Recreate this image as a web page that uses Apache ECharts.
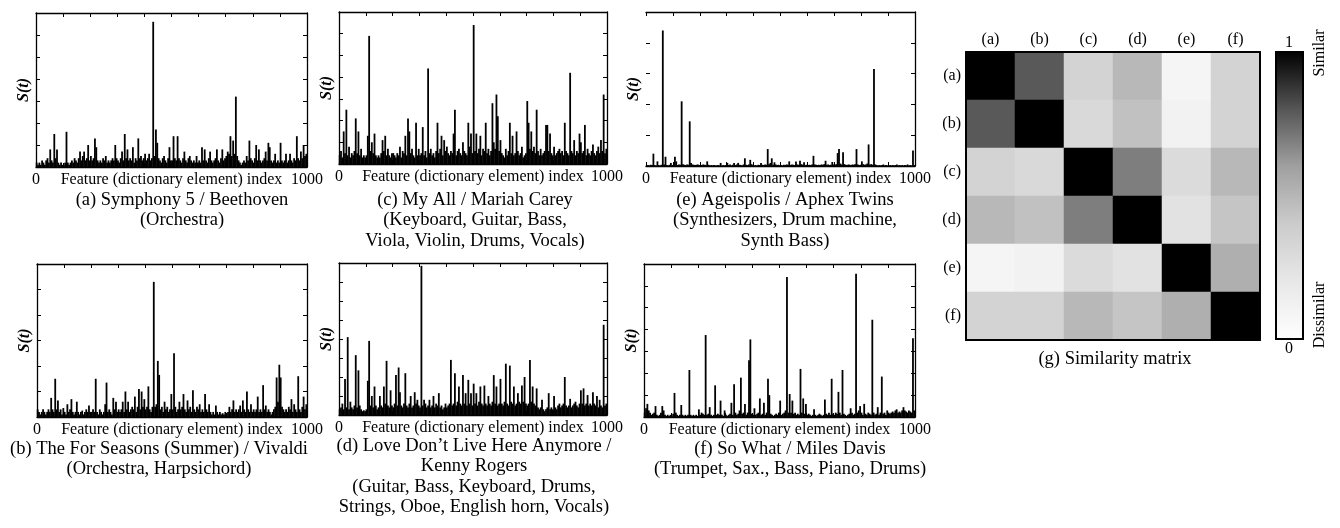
<!doctype html>
<html>

<head>
    <meta charset="utf-8">
    <title>Feature histograms / similarity matrix</title>
    <script type="text/javascript" src="https://cdn.jsdelivr.net/npm/echarts@6/dist/echarts.min.js"></script>
</head>

<body style="margin:0;padding:0;background:#fff">
    <div id="tb" style="width:1340px;height:528px"></div>
    <script>
        // S(t): one value per bin of 5 feature indices (0, 5, ... 995)
        var binStep = 5;
        var beethoven = [
            0.2,0.1,0.2,0.1,0.3,0.2,0.1,0.3,0.4,0.2, 0.8,0.3,0.2,1.5,0.4,0.8,0.2,0.1,0.2,0.1,
            0.1,0.2,1.6,0.2,0.1,0.2,0.3,0.2,0.4,0.3, 0.2,0.4,0.7,0.3,0.5,0.7,0.3,0.4,1.0,0.3,
            0.5,0.3,0.4,1.3,0.9,0.3,0.2,0.3,0.2,0.4, 0.3,0.5,0.2,0.3,0.2,0.3,0.4,0.3,1.0,0.4,
            0.3,0.2,0.4,0.7,0.3,1.5,0.4,0.8,0.3,0.4, 0.3,0.9,0.2,0.4,0.3,1.3,0.4,0.5,0.3,0.4,
            0.6,0.3,0.4,0.6,0.3,0.4,6.6,0.5,1.7,1.1, 0.4,0.3,0.2,0.4,0.5,0.3,0.2,0.4,0.9,0.3,
            0.3,1.4,0.4,0.3,1.4,0.4,0.3,0.2,0.4,0.7, 0.3,0.2,0.4,0.5,0.3,0.2,0.3,0.2,0.5,0.2,
            0.3,0.2,0.9,0.3,0.8,0.3,0.2,0.4,0.7,0.3, 0.2,0.3,0.4,0.8,0.3,0.2,0.4,0.8,0.3,0.4,
            0.5,0.7,0.6,1.4,0.5,1.2,0.6,3.2,0.5,0.3, 0.2,0.1,0.2,0.3,0.2,0.5,0.3,1.2,0.4,0.3,
            0.2,0.4,1.0,0.3,0.8,0.3,0.2,0.3,0.4,0.7, 0.3,1.1,0.9,0.3,0.2,0.3,0.6,0.2,0.3,0.2,
            1.1,0.3,0.2,0.3,0.6,0.2,0.3,0.6,0.3,0.2, 0.4,0.3,1.4,0.4,0.3,0.7,0.4,1.0,0.5,0.6
        ];
        var mariahCarey = [
            0.4,0.6,0.3,1.5,0.5,2.5,0.4,0.8,0.3,0.5, 0.4,0.6,2.1,0.5,1.5,0.4,0.7,0.3,0.4,0.3,
            0.4,1.3,5.9,0.6,1.0,0.5,1.4,0.4,0.3,0.4, 0.3,0.5,1.1,0.6,1.3,0.4,0.7,0.4,0.3,0.5,
            0.5,0.4,0.3,0.5,0.4,0.8,0.3,0.6,0.5,1.3, 0.4,2.1,1.5,0.5,0.7,0.4,0.3,1.9,0.4,0.7,
            0.4,0.5,1.7,0.4,0.6,0.3,4.4,0.5,0.7,0.4, 0.5,0.3,0.6,1.9,0.5,0.7,1.3,0.4,1.1,0.6,
            0.8,0.5,0.4,0.6,0.5,1.4,2.5,0.4,0.6,0.7, 0.5,0.4,1.0,0.6,0.5,0.4,1.9,0.8,1.4,0.5,
            6.4,0.6,1.4,0.5,0.7,1.3,0.4,0.7,0.6,1.9, 0.5,0.7,0.4,0.6,2.8,1.0,0.7,3.2,2.2,0.6,
            1.1,0.5,0.4,0.3,0.7,0.4,0.6,1.9,0.5,1.3, 0.4,0.5,1.5,0.6,0.4,0.5,0.8,0.3,0.4,0.5,
            2.9,1.9,0.7,1.5,0.6,0.8,0.5,2.5,0.6,0.4, 0.7,0.4,0.5,0.6,1.8,1.8,0.6,1.4,0.5,0.4,
            0.8,0.4,0.5,0.6,0.7,0.5,0.6,0.4,1.9,0.6, 0.5,0.4,4.2,0.6,0.5,1.1,0.4,0.6,0.5,1.4,
            1.0,0.5,0.6,1.8,0.4,0.7,0.5,0.4,0.6,0.9, 0.5,0.4,0.6,0.8,0.5,1.1,0.6,3.2,0.5,0.7
        ];
        var aphexTwins = [
            0.02,0.03,0.02,0.04,0.03,0.4,0.03,0.02,0.15,0.03, 0.02,0.04,4.4,0.05,0.3,0.03,0.02,0.04,0.1,0.03,
            0.04,0.3,0.15,0.03,0.05,0.04,2.1,0.06,0.04,0.03, 0.05,0.04,1.45,0.1,0.05,0.04,0.03,0.04,0.05,0.03,
            0.04,0.03,0.05,0.04,0.03,0.15,0.04,0.02,0.03,0.02, 0.03,0.02,0.02,0.03,0.02,0.1,0.02,0.03,0.02,0.03,
            0.1,0.03,0.05,0.02,0.04,0.1,0.03,0.05,0.1,0.04, 0.03,0.02,0.05,0.25,0.04,0.03,0.05,0.2,0.06,0.03,
            0.02,0.03,0.02,0.04,0.03,0.1,0.04,0.03,0.05,0.04, 0.55,0.06,0.1,0.25,0.04,0.12,0.05,0.03,0.04,0.02,
            0.03,0.02,0.04,0.03,0.05,0.04,0.15,0.03,0.05,0.04, 0.03,0.15,0.05,0.04,0.17,0.06,0.04,0.12,0.03,0.04,
            0.03,0.04,0.03,0.05,0.33,0.05,0.04,0.03,0.04,0.03, 0.05,0.04,0.06,0.17,0.04,0.05,0.03,0.04,0.13,0.05,
            0.04,0.06,0.42,0.55,0.08,0.05,0.45,0.06,0.04,0.03, 0.05,0.04,0.03,0.05,0.04,0.06,0.55,0.05,0.03,0.04,
            0.15,0.06,0.04,0.05,0.08,0.7,0.05,0.06,0.04,3.15, 0.05,0.03,0.02,0.03,0.02,0.03,0.05,0.02,0.03,0.02,
            0.02,0.03,0.02,0.03,0.02,0.03,0.05,0.02,0.03,0.02, 0.03,0.02,0.03,0.02,0.05,0.02,0.03,0.02,0.5,0.03
        ];
        var vivaldi = [
            0.3,0.2,0.1,0.2,0.3,0.2,0.1,0.2,0.3,0.2, 0.75,0.3,0.2,1.5,0.3,0.65,0.2,0.3,0.1,0.35,
            0.2,0.1,0.5,0.2,0.3,0.7,0.2,0.1,0.2,0.6, 0.2,0.1,0.2,0.25,0.1,0.2,0.3,0.2,0.45,0.2,
            0.2,0.3,0.2,1.5,0.2,0.1,0.3,0.2,0.1,0.2, 0.5,1.35,0.2,0.3,0.2,0.1,0.75,0.3,0.6,0.2,
            0.3,0.2,0.3,0.6,0.2,1.0,0.3,0.6,0.2,0.3, 0.4,0.3,0.8,0.2,0.4,1.1,0.3,1.0,0.4,0.7,
            0.3,0.4,1.2,0.3,0.2,0.4,5.3,0.4,0.5,2.2, 1.65,0.3,0.4,0.2,0.6,0.3,0.4,0.2,0.3,0.9,
            0.3,2.5,0.4,0.2,0.3,0.6,0.3,0.4,0.9,0.3, 0.2,0.65,0.3,0.4,0.2,1.05,0.3,0.2,0.4,0.3,
            0.5,0.2,0.3,0.2,0.9,0.3,0.2,0.5,0.2,0.1, 0.2,0.1,0.45,0.2,0.1,0.2,0.1,0.15,0.1,0.2,
            0.1,0.2,0.4,0.2,0.3,0.65,0.2,0.3,0.2,0.3, 0.45,0.2,0.65,0.3,0.2,1.0,0.3,0.2,0.5,0.2,
            0.3,0.2,0.3,0.8,0.2,0.3,0.2,1.25,0.3,0.45, 0.2,0.3,0.2,0.1,0.2,0.3,0.4,1.55,0.6,2.05,
            1.55,0.4,0.3,0.2,0.3,0.2,0.4,0.3,0.7,0.2, 0.5,0.3,0.2,1.6,0.3,0.2,0.4,0.8,0.3,0.5
        ];
        var kennyRogers = [
            0.3,0.4,0.6,0.3,1.9,0.4,4.1,0.3,0.7,0.4, 0.3,0.5,3.15,0.4,2.35,0.5,0.3,0.2,0.25,0.2,
            0.3,1.8,3.9,0.5,1.0,0.4,1.5,0.5,0.3,0.4, 1.0,0.5,0.4,1.5,0.6,2.85,0.5,0.4,1.3,0.5,
            0.4,0.6,2.1,0.5,2.5,1.2,0.5,0.4,0.6,2.2, 0.5,0.4,0.6,1.0,0.4,0.5,1.2,0.6,0.8,0.5,
            0.4,7.85,0.5,0.8,0.6,0.4,0.5,0.8,0.4,0.5, 1.0,0.4,0.6,0.5,1.15,0.4,0.5,0.3,0.4,0.6,
            0.4,0.5,0.6,2.9,0.5,0.6,2.2,0.5,0.7,1.5, 0.6,0.5,2.1,0.6,1.15,0.5,1.85,0.6,1.15,0.5,
            1.65,0.6,1.15,0.5,0.7,1.5,0.6,0.5,1.55,0.6, 0.5,1.0,0.6,0.5,0.7,2.1,0.6,1.5,0.5,0.6,
            1.9,0.6,0.5,0.7,2.7,0.6,0.5,2.6,0.7,0.6, 1.5,0.5,0.6,1.15,0.7,0.6,1.55,0.7,2.0,0.6,
            0.5,0.6,2.9,0.7,1.5,0.6,0.5,1.4,0.4,0.3, 0.4,0.8,0.3,0.2,0.3,0.4,1.15,0.3,0.4,0.3,
            1.0,0.4,0.3,0.5,0.6,0.4,0.5,0.6,2.0,0.5, 0.4,0.5,0.85,0.4,0.5,0.6,0.7,0.5,0.4,0.6,
            1.3,0.6,1.4,0.5,0.6,1.05,0.5,0.6,0.5,1.2, 0.6,0.5,1.0,0.4,0.8,0.5,0.4,4.75,0.5,0.6
        ];
        var milesDavis = [
            0.2,0.4,0.6,0.3,0.2,0.1,0.15,0.2,0.5,0.1, 0.05,0.1,0.2,0.5,0.3,0.1,0.05,0.1,0.05,0.1,
            0.05,0.15,1.1,0.2,0.1,0.05,0.1,0.55,0.1,0.05, 0.1,0.05,0.1,2.15,0.1,0.05,0.1,0.05,0.1,0.05,
            0.35,0.1,0.2,0.15,0.1,3.75,0.1,0.15,0.45,0.1, 0.05,0.1,1.45,0.1,0.15,0.1,0.75,0.1,0.05,0.3,
            0.1,0.05,0.1,0.15,0.65,0.1,1.5,0.2,0.1,0.15, 0.3,1.8,0.15,0.2,0.6,0.1,0.2,2.6,3.55,0.15,
            0.1,0.4,0.1,0.15,0.2,0.85,0.1,0.15,0.65,0.1, 0.2,1.75,1.0,0.15,0.1,0.05,0.1,0.15,0.1,0.2,
            0.75,0.1,0.15,0.2,0.3,6.4,0.2,1.05,0.2,0.75, 0.15,0.2,0.1,0.15,0.1,2.2,0.2,0.85,0.15,0.6,
            0.1,0.15,0.1,0.05,0.1,0.35,0.1,0.05,0.1,0.15, 0.1,0.05,0.1,0.8,0.15,0.1,0.2,0.1,1.75,0.15,
            0.1,0.2,0.15,1.15,0.2,0.1,2.15,0.15,0.1,0.05, 0.1,0.15,0.4,0.2,0.1,0.15,6.55,0.2,0.3,0.5,
            0.2,0.1,0.6,0.15,0.1,0.2,0.15,0.1,4.45,0.2, 0.1,0.15,0.45,0.1,0.2,1.85,0.15,0.2,0.1,0.3,
            0.2,0.15,0.2,0.25,0.2,0.3,0.35,0.2,0.25,0.2, 0.3,0.45,0.3,0.25,0.2,0.3,0.25,0.2,3.6,0.3
        ];
        // panel order: top row a, c, e / bottom row b, d, f
        var panelSeries = [beethoven, mariahCarey, aphexTwins, vivaldi, kennyRogers, milesDavis];
        var yMax = [7, 7, 5, 6, 8, 7];
        var captions = [
            '(a) Symphony 5 / Beethoven\n(Orchestra)',
            '(c) My All / Mariah Carey\n(Keyboard, Guitar, Bass,\nViola, Violin, Drums, Vocals)',
            '(e) Ageispolis / Aphex Twins\n(Synthesizers, Drum machine,\nSynth Bass)',
            '(b) The For Seasons (Summer) / Vivaldi\n(Orchestra, Harpsichord)',
            '(d) Love Don\u2019t Live Here Anymore /\nKenny Rogers\n(Guitar, Bass, Keyboard, Drums,\nStrings, Oboe, English horn, Vocals)',
            '(f) So What / Miles Davis\n(Trumpet, Sax., Bass, Piano, Drums)'
        ];
        var matrixLabels = ['(a)', '(b)', '(c)', '(d)', '(e)', '(f)'];
        var similarity = [
            [1.00, 0.79, 0.35, 0.49, 0.09, 0.35],
            [0.79, 1.00, 0.31, 0.45, 0.11, 0.35],
            [0.35, 0.31, 1.00, 0.69, 0.29, 0.49],
            [0.49, 0.45, 0.69, 1.00, 0.24, 0.43],
            [0.09, 0.11, 0.29, 0.24, 1.00, 0.53],
            [0.35, 0.35, 0.49, 0.43, 0.53, 1.00]
        ];

        // layout of the six panels (px)
        var panels = [
            { l: 36,  t: 13,  w: 271, h: 154, cx: 182, cy: 190, leftLine: true },
            { l: 339, t: 12,  w: 268, h: 152, cx: 475, cy: 190, leftLine: true },
            { l: 646, t: 12,  w: 269, h: 154, cx: 785, cy: 190, leftLine: false },
            { l: 37,  t: 264, w: 270, h: 153, cx: 159, cy: 439, leftLine: true },
            { l: 339, t: 263, w: 268, h: 152, cx: 474, cy: 436, leftLine: true },
            { l: 644, t: 264, w: 271, h: 153, cx: 790, cy: 439, leftLine: true }
        ];
        var serif = '"Liberation Serif", "Times New Roman", serif';

        var grids = [], xAxes = [], yAxes = [], series = [], titles = [];
        function frameLine(show) {
            return { show: show, onZero: false, lineStyle: { color: '#000', width: 1.3 } };
        }
        function inTick() {
            return { show: true, inside: true, length: 4, lineStyle: { color: '#000', width: 1 } };
        }

        panels.forEach(function (p, i) {
            grids.push({ left: p.l, top: p.t, width: p.w, height: p.h, containLabel: false, outerBoundsMode: 'none' });
            xAxes.push({
                gridIndex: i, type: 'value', min: 0, max: 1000, interval: 100, position: 'bottom',
                axisLine: frameLine(true), axisTick: inTick(), splitLine: { show: false },
                axisLabel: {
                    margin: 5, color: '#000', fontFamily: serif, fontSize: 16,
                    formatter: function (v) { return (v === 0 || v === 1000) ? String(v) : ''; }
                },
                name: 'Feature (dictionary element) index', nameLocation: 'middle', nameGap: 5,
                nameMoveOverlap: false,
                nameTextStyle: { color: '#000', fontFamily: serif, fontSize: 16 }
            });
            xAxes.push({
                gridIndex: i, type: 'value', min: 0, max: 1000, interval: 100, position: 'top',
                axisLine: frameLine(true), axisTick: inTick(), axisLabel: { show: false }, splitLine: { show: false }
            });
            yAxes.push({
                gridIndex: i, type: 'value', min: 0, max: yMax[i], interval: 1, position: 'left',
                axisLine: frameLine(p.leftLine),
                axisTick: inTick(), axisLabel: { show: false }, splitLine: { show: false },
                name: 'S(t)', nameLocation: 'middle', nameGap: 4, nameRotate: 90,
                nameMoveOverlap: false,
                nameTextStyle: { color: '#000', fontFamily: serif, fontSize: 16, fontWeight: 'bold', fontStyle: 'italic' }
            });
            yAxes.push({
                gridIndex: i, type: 'value', min: 0, max: yMax[i], interval: 1, position: 'right',
                axisLine: frameLine(true), axisTick: inTick(), axisLabel: { show: false }, splitLine: { show: false }
            });
            series.push({
                type: 'bar', xAxisIndex: 2 * i, yAxisIndex: 2 * i, barWidth: 1.8,
                itemStyle: { color: '#000' }, silent: true,
                data: panelSeries[i].map(function (v, k) { return [k * binStep + binStep / 2, v]; })
            });
            titles.push({
                text: captions[i], left: p.cx, top: p.cy, textAlign: 'center', padding: 0,
                textStyle: { color: '#000', fontFamily: serif, fontSize: 18.5, fontWeight: 'normal', lineHeight: 20.3 }
            });
        });

        // similarity matrix
        function heatLine() {
            return { show: true, onZero: false, lineStyle: { color: '#000', width: 2 } };
        }
        grids.push({ left: 966, top: 52, width: 294, height: 288, containLabel: false, outerBoundsMode: 'none' });
        xAxes.push({
            gridIndex: 6, type: 'category', data: matrixLabels, position: 'top', z: 5,
            axisLine: heatLine(), axisTick: { show: false }, splitLine: { show: false },
            axisLabel: { margin: 4, color: '#000', fontFamily: serif, fontSize: 16 }
        });
        xAxes.push({
            gridIndex: 6, type: 'category', data: matrixLabels, position: 'bottom', z: 5,
            axisLine: heatLine(), axisTick: { show: false }, axisLabel: { show: false }, splitLine: { show: false }
        });
        yAxes.push({
            gridIndex: 6, type: 'category', data: matrixLabels, position: 'left', inverse: true, z: 5,
            axisLine: heatLine(), axisTick: { show: false }, splitLine: { show: false },
            axisLabel: { margin: 5, color: '#000', fontFamily: serif, fontSize: 16 }
        });
        yAxes.push({
            gridIndex: 6, type: 'category', data: matrixLabels, position: 'right', inverse: true, z: 5,
            axisLine: heatLine(), axisTick: { show: false }, axisLabel: { show: false }, splitLine: { show: false }
        });
        var heatData = [];
        similarity.forEach(function (row, r) {
            row.forEach(function (v, c) { heatData.push([c, r, v]); });
        });
        series.push({ type: 'heatmap', xAxisIndex: 12, yAxisIndex: 12, data: heatData, silent: true });
        titles.push({
            text: '(g) Similarity matrix', left: 1115, top: 349, textAlign: 'center', padding: 0,
            textStyle: { color: '#000', fontFamily: serif, fontSize: 18.5, fontWeight: 'normal', lineHeight: 20 }
        });

        var grayRamp = ['#ffffff', '#e8e8e8', '#cccccc', '#a0a0a0', '#555555', '#000000'];
        var barStops = grayRamp.slice().reverse().map(function (c, k) {
            return { offset: k / (grayRamp.length - 1), color: c };
        });
        var txt = function (s) {
            return { text: s, fill: '#000', font: '16px "Liberation Serif", serif', align: 'center', verticalAlign: 'middle' };
        };

        var chart = echarts.init(document.getElementById('tb'));
        chart.setOption({
            animation: false,
            backgroundColor: '#fff',
            title: titles,
            grid: grids,
            xAxis: xAxes,
            yAxis: yAxes,
            visualMap: {
                type: 'continuous', show: false, min: 0, max: 1, seriesIndex: 6,
                inRange: { color: grayRamp }
            },
            graphic: [
                {
                    type: 'rect', x: 1276, y: 52, z: 10,
                    shape: { width: 27, height: 287 },
                    style: { fill: new echarts.graphic.LinearGradient(0, 0, 0, 1, barStops), stroke: '#000', lineWidth: 2 }
                },
                { type: 'text', x: 1289, y: 43, z: 10, style: txt('1') },
                { type: 'text', x: 1289, y: 349, z: 10, style: txt('0') },
                { type: 'text', x: 1320, y: 53, z: 10, rotation: Math.PI / 2, style: txt('Similar') },
                { type: 'text', x: 1320, y: 315, z: 10, rotation: Math.PI / 2, style: txt('Dissimilar') }
            ],
            series: series
        });
    </script>
</body>

</html>
